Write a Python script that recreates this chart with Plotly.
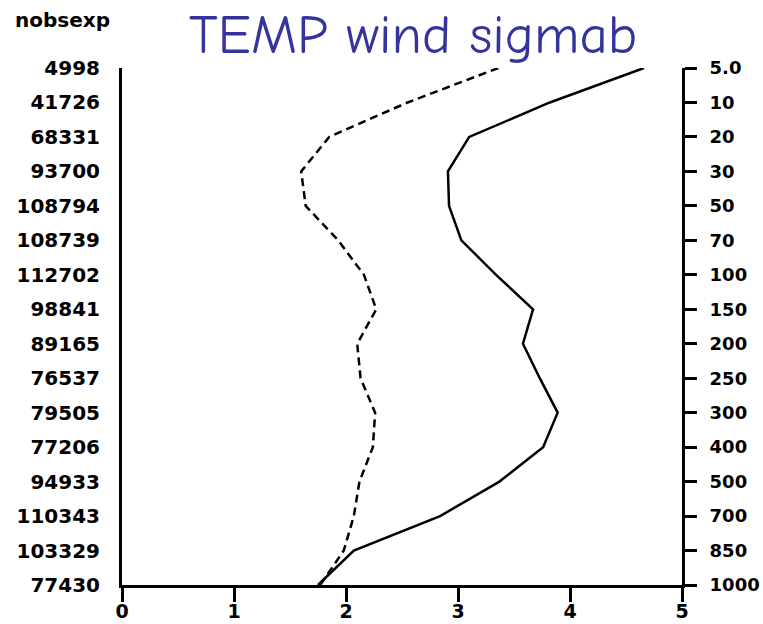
import plotly.graph_objects as go

levels = ["5.0", "10", "20", "30", "50", "70", "100", "150", "200", "250",
          "300", "400", "500", "700", "850", "1000"]
nobsexp = ["4998", "41726", "68331", "93700", "108794", "108739", "112702", "98841",
           "89165", "76537", "79505", "77206", "94933", "110343", "103329", "77430"]
solid_vals = [4.66, 3.82, 3.10, 2.91, 2.92, 3.03, 3.34, 3.67, 3.58, 3.73,
              3.89, 3.76, 3.37, 2.84, 2.07, 1.75]
dashed_vals = [3.36, 2.55, 1.85, 1.60, 1.64, 1.93, 2.16, 2.27, 2.10, 2.13,
               2.26, 2.24, 2.12, 2.07, 1.98, 1.77]
x_ticks = [0, 1, 2, 3, 4, 5]

idx = list(range(len(levels)))

fig = go.Figure()
fig.add_trace(go.Scatter(x=dashed_vals, y=idx, mode="lines",
                         line=dict(color="black", width=2.5, dash="8px,5px"),
                         showlegend=False, cliponaxis=False))
fig.add_trace(go.Scatter(x=solid_vals, y=idx, mode="lines",
                         line=dict(color="black", width=2.5),
                         showlegend=False, cliponaxis=False))
# invisible trace to activate right axis
fig.add_trace(go.Scatter(x=[None], y=[None], yaxis="y2", showlegend=False))

tick_font = dict(family="DejaVu Sans", size=20, color="black", weight="bold")

fig.update_layout(
    width=763, height=624,
    margin=dict(l=122, r=81, t=68, b=39, autoexpand=False),
    paper_bgcolor="white", plot_bgcolor="white",
    xaxis=dict(range=[0, 5], tickvals=x_ticks, ticktext=[str(v) for v in x_ticks],
               showline=True, linecolor="black", linewidth=3,
               ticks="outside", ticklen=14, tickwidth=3, tickcolor="black",
               showgrid=False, zeroline=False, automargin=False,
               ticklabelstandoff=-7,
               tickfont=dict(family="DejaVu Sans", size=19, color="black", weight="bold")),
    yaxis=dict(range=[15, 0], tickvals=idx, ticktext=nobsexp,
               showline=True, linecolor="black", linewidth=3,
               ticks="", showgrid=False, zeroline=False, automargin=False,
               ticklabelstandoff=15, tickfont=tick_font),
    yaxis2=dict(range=[15, 0], tickvals=idx, ticktext=levels, overlaying="y",
                side="right", showline=True, linecolor="black", linewidth=3,
                ticks="outside", ticklen=12, tickwidth=3, tickcolor="black",
                showgrid=False, zeroline=False, ticklabelstandoff=9, automargin=False,
                tickfont=dict(family="DejaVu Sans", size=18, color="black", weight="bold")),
    annotations=[
        dict(text="nobsexp", xref="paper", yref="paper", x=-0.195, y=1.093,
             xanchor="left", yanchor="middle", showarrow=False,
             font=dict(family="DejaVu Sans", size=20, color="black", weight="bold")),
        dict(text="TEMP wind sigmab", xref="paper", yref="paper", x=0.52, y=1.064,
             xanchor="center", yanchor="middle", showarrow=False,
             font=dict(family="Comic Sans MS, Comic Neue, DejaVu Sans", size=55,
                       color="#34349c")),
    ],
)

fig.write_html("out.html", config={"displayModeBar": False},
               post_script="document.body.style.margin='0';document.body.style.overflow='hidden';")
